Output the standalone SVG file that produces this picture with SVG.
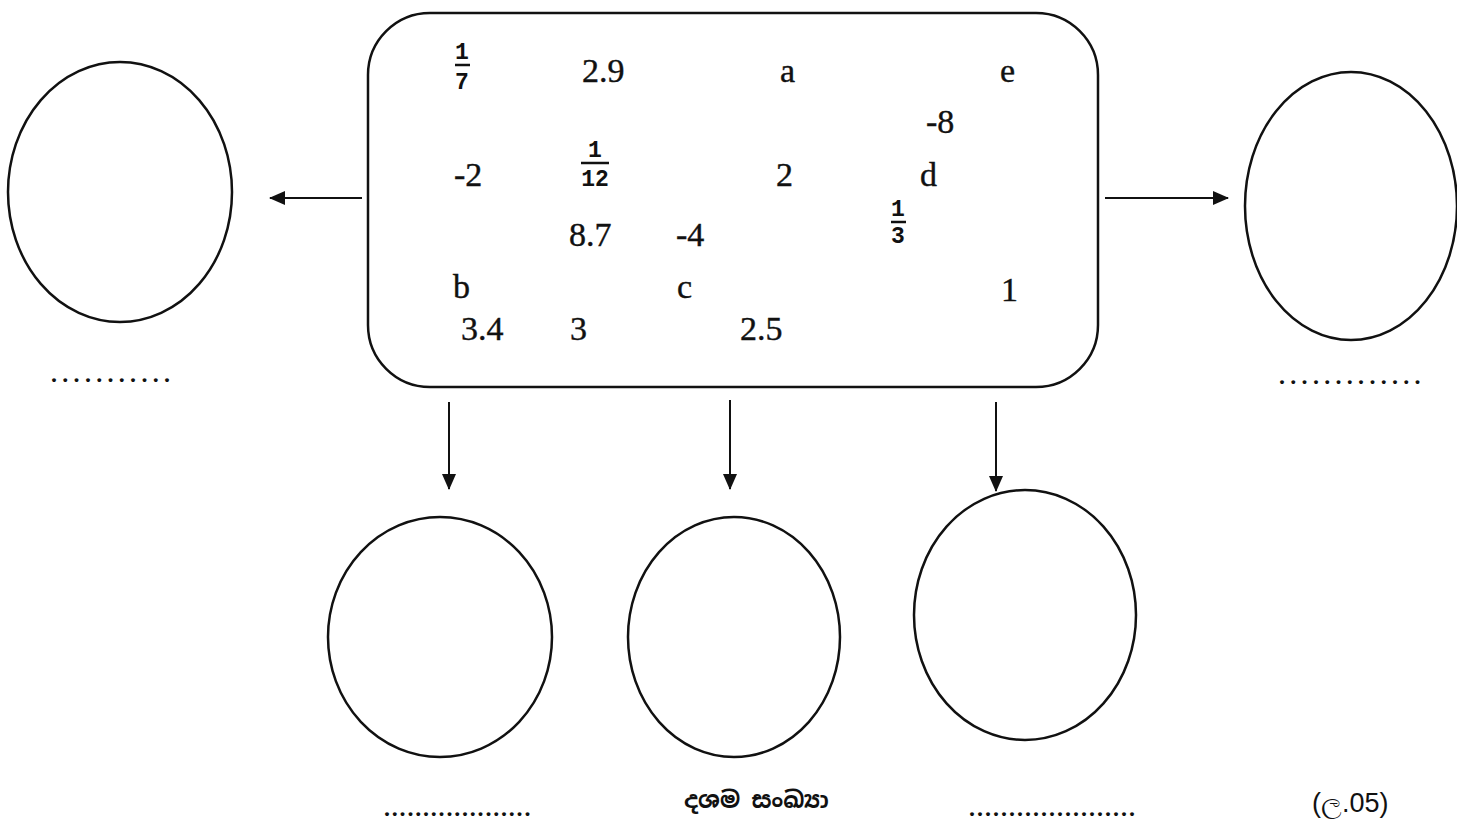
<svg xmlns="http://www.w3.org/2000/svg" width="1457" height="830" viewBox="0 0 1457 830">
<style>
.sh{fill:none;stroke:#111;stroke-width:2.5}
.ln{stroke:#111;stroke-width:2}
.fl{stroke:#111;stroke-width:2.5}
.t{font-family:"Liberation Serif","DejaVu Serif",serif;font-size:34px;fill:#111;stroke:#111;stroke-width:0.4}
.f{font-family:"Liberation Mono","DejaVu Sans Mono",monospace;font-weight:bold;font-size:23px;fill:#111;text-anchor:middle}
.dots{font-family:"Liberation Serif",serif;font-size:24px;font-weight:bold;fill:#111}
.s{font-family:"Noto Sans Sinhala","Noto Sans","DejaVu Sans",sans-serif;font-size:23px;font-weight:bold;fill:#111}
.lab{font-family:"Liberation Sans","DejaVu Sans",sans-serif;font-size:27px;fill:#111}
</style>
<defs>
<marker id="ah" markerWidth="16" markerHeight="14" refX="15" refY="7" orient="auto" markerUnits="userSpaceOnUse" viewBox="0 0 16 14">
<path d="M0,0 L16,7 L0,14 z" fill="#111"/>
</marker>
</defs>
<rect width="1457" height="830" fill="#fff"/>
<g id="center-box">
<rect class="sh" x="368" y="13" width="730" height="374" rx="62" ry="62"/>
<text class="f" x="462" y="59">1</text>
<line class="fl" x1="455" y1="65" x2="470" y2="65"/>
<text class="f" x="462" y="89">7</text>
<text class="t" x="582" y="82">2.9</text>
<text class="t" x="780" y="82">a</text>
<text class="t" x="1000" y="82">e</text>
<text class="t" x="926" y="133">-8</text>
<text class="t" x="454" y="186">-2</text>
<text class="f" x="595" y="157">1</text>
<line class="fl" x1="581" y1="163" x2="609" y2="163"/>
<text class="f" x="595" y="186">12</text>
<text class="t" x="776" y="186">2</text>
<text class="t" x="920" y="186">d</text>
<text class="t" x="569" y="246">8.7</text>
<text class="t" x="676" y="246">-4</text>
<text class="f" x="898" y="216">1</text>
<line class="fl" x1="891" y1="222" x2="906" y2="222"/>
<text class="f" x="898" y="243">3</text>
<text class="t" x="453" y="298">b</text>
<text class="t" x="677" y="298">c</text>
<text class="t" x="1001" y="301">1</text>
<text class="t" x="461" y="340">3.4</text>
<text class="t" x="570" y="340">3</text>
<text class="t" x="740" y="340">2.5</text>
</g>
<g id="circle-left">
<ellipse class="sh" cx="120" cy="192" rx="112" ry="130"/>
<text class="dots" x="51" y="382" letter-spacing="5.3">...........</text>
</g>
<g id="circle-right">
<ellipse class="sh" cx="1351" cy="206" rx="106" ry="134"/>
<text class="dots" x="1279" y="384" letter-spacing="5.3">.............</text>
</g>
<g id="circle-bottom-1">
<ellipse class="sh" cx="440" cy="637" rx="112" ry="120"/>
<text class="dots" x="384" y="816" letter-spacing="1.8">...................</text>
</g>
<g id="circle-bottom-2">
<ellipse class="sh" cx="734" cy="637" rx="106" ry="120"/>
<text class="s" x="684" y="808">දශම සංඛ්‍යා</text>
</g>
<g id="circle-bottom-3">
<ellipse class="sh" cx="1025" cy="615" rx="111" ry="125"/>
<text class="dots" x="969" y="816" letter-spacing="2">.....................</text>
</g>
<g id="mark">
<text class="lab" x="1312" y="812">(ල.05)</text>
</g>
<g id="connectors">
<line class="ln" x1="362" y1="198" x2="270" y2="198" marker-end="url(#ah)"/>
<line class="ln" x1="1105" y1="198" x2="1228" y2="198" marker-end="url(#ah)"/>
<line class="ln" x1="449" y1="402" x2="449" y2="489" marker-end="url(#ah)"/>
<line class="ln" x1="730" y1="400" x2="730" y2="489" marker-end="url(#ah)"/>
<line class="ln" x1="996" y1="402" x2="996" y2="491" marker-end="url(#ah)"/>
</g>
</svg>
